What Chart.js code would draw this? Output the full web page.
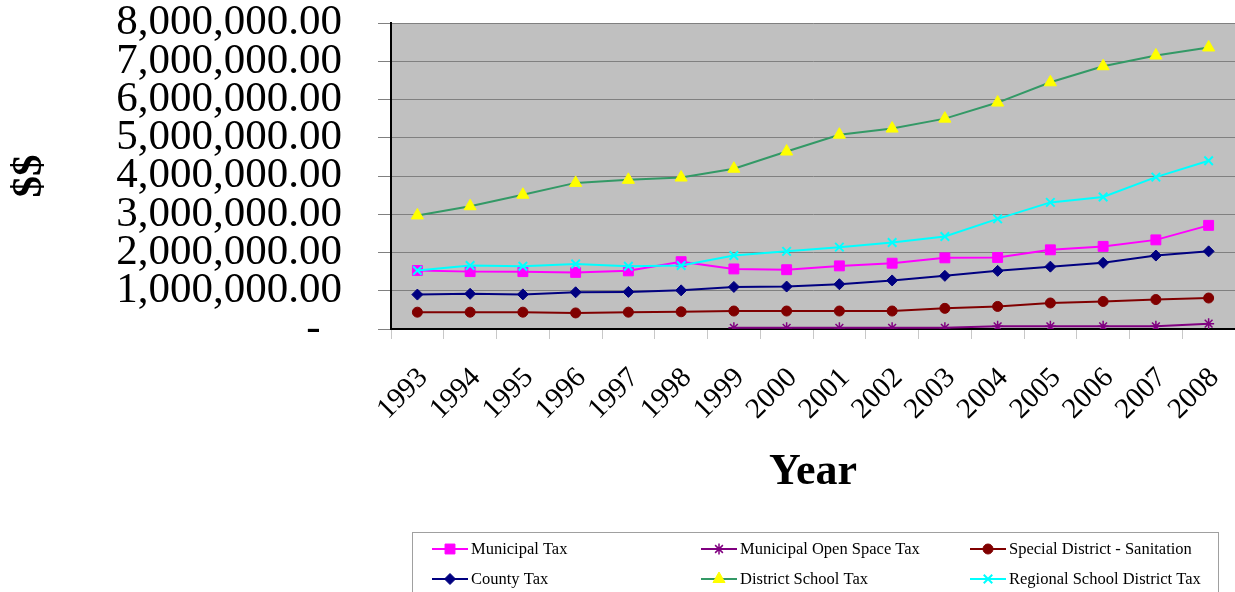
<!DOCTYPE html>
<html>
<head>
<meta charset="utf-8">
<title>Tax Levies 1993-2008</title>
<script src="https://cdn.jsdelivr.net/npm/chart.js@4/dist/chart.umd.min.js"></script>
<style>
  html, body { margin: 0; padding: 0; background: #fff; }
  #wrap { position: relative; width: 1235px; height: 592px; }
</style>
</head>
<body>
<div id="wrap"><canvas id="chart" width="1235" height="592"></canvas></div>
<script>
// Years on the category axis
const years = ['1993','1994','1995','1996','1997','1998','1999','2000',
               '2001','2002','2003','2004','2005','2006','2007','2008'];

// Annual levies in dollars, one list per tax
const municipalTax = [1530000, 1500000, 1500000, 1480000, 1520000, 1760000, 1570000, 1550000,
                      1650000, 1720000, 1860000, 1870000, 2070000, 2160000, 2330000, 2710000];
const municipalOpenSpaceTax = [null, null, null, null, null, null, 30000, 30000,
                               30000, 30000, 30000, 70000, 70000, 70000, 70000, 140000];
const sanitationTax = [440000, 440000, 440000, 420000, 440000, 450000, 470000, 470000,
                       470000, 470000, 540000, 590000, 680000, 720000, 770000, 810000];
const countyTax = [900000, 920000, 905000, 960000, 970000, 1010000, 1100000, 1110000,
                   1170000, 1270000, 1390000, 1520000, 1630000, 1730000, 1920000, 2030000];
const districtSchoolTax = [2970000, 3210000, 3510000, 3820000, 3900000, 3960000, 4190000, 4640000,
                           5080000, 5240000, 5500000, 5920000, 6450000, 6870000, 7150000, 7360000];
const regionalSchoolTax = [1530000, 1660000, 1640000, 1700000, 1640000, 1660000, 1920000, 2030000,
                           2140000, 2260000, 2420000, 2880000, 3310000, 3450000, 3970000, 4400000];

// Value axis range and step
const yMin = 0;
const yMax = 8000000;
const yStep = 1000000;

const SERIF = "'Liberation Serif', 'Times New Roman', Times, serif";

function money(v) {
  if (v === 0) return '-  ';
  const whole = Math.round(v).toString().replace(/\B(?=(\d{3})+(?!\d))/g, ',');
  return whole + '.00';
}

function series(label, data, line, fill, style, radius, order, pbw) {
  return {
    label, data, order,
    borderColor: line,
    backgroundColor: fill,
    borderWidth: 2,
    pointStyle: style,
    pointRadius: radius,
    pointHoverRadius: radius,
    pointBackgroundColor: fill,
    pointBorderColor: fill,
    pointBorderWidth: pbw,
    tension: 0,
    spanGaps: false
  };
}

// Legend layout order: two rows of three
const datasets = [
  series('Municipal Tax', municipalTax, '#FF00FF', '#FF00FF', 'rect', 7, 5, 1),
  series('Municipal Open Space Tax', municipalOpenSpaceTax, '#800080', '#800080', 'star', 5.5, 4, 1.5),
  series('Special District - Sanitation', sanitationTax, '#800000', '#800000', 'circle', 5, 3, 1),
  series('County Tax', countyTax, '#000080', '#000080', 'rectRot', 5.5, 2, 1),
  series('District School Tax', districtSchoolTax, '#339966', '#FFFF00', 'triangle', 7, 1, 1),
  series('Regional School District Tax', regionalSchoolTax, '#00FFFF', '#00FFFF', 'crossRot', 6, 0, 2)
];

// Grey plot area behind the gridlines
const plotBackground = {
  id: 'plotBackground',
  beforeDraw(chart) {
    const { ctx, chartArea: a } = chart;
    ctx.save();
    ctx.fillStyle = '#C0C0C0';
    ctx.fillRect(a.left, a.top, a.right - a.left, a.bottom - a.top);
    ctx.restore();
  }
};

// Boxed legend in fixed columns beneath the axis title
const boxedLegend = {
  id: 'boxedLegend',
  afterDraw(chart) {
    const ctx = chart.ctx;
    const colX = [432, 701, 970];
    const rowY = [549, 579];
    ctx.save();
    ctx.strokeStyle = '#a0a0a0';
    ctx.lineWidth = 1;
    ctx.strokeRect(412.5, 532.5, 806, 80);
    ctx.font = '16.5px ' + SERIF;
    ctx.textBaseline = 'middle';
    ctx.textAlign = 'left';
    chart.data.datasets.forEach((ds, i) => {
      const x = colX[i % 3];
      const y = rowY[Math.floor(i / 3)];
      ctx.strokeStyle = ds.borderColor;
      ctx.lineWidth = 2;
      ctx.beginPath();
      ctx.moveTo(x, y);
      ctx.lineTo(x + 36, y);
      ctx.stroke();
      ctx.fillStyle = ds.pointBackgroundColor;
      ctx.strokeStyle = ds.pointBorderColor;
      ctx.lineWidth = ds.pointBorderWidth;
      Chart.helpers.drawPoint(ctx, {
        pointStyle: ds.pointStyle,
        radius: ds.pointRadius,
        rotation: 0,
        borderWidth: ds.pointBorderWidth
      }, x + 18, y);
      ctx.fillStyle = '#000';
      ctx.fillText(ds.label, x + 39, y + 1);
    });
    ctx.restore();
  }
};

new Chart(document.getElementById('chart'), {
  type: 'line',
  data: { labels: years, datasets },
  plugins: [plotBackground, boxedLegend],
  options: {
    responsive: false,
    animation: false,
    devicePixelRatio: 1,
    layout: { autoPadding: false, padding: { top: 23, right: 0, bottom: 90, left: 0 } },
    plugins: {
      legend: { display: false },
      tooltip: { enabled: false }
    },
    scales: {
      x: {
        offset: true,
        grid: { offset: true, drawOnChartArea: false, drawTicks: true, tickLength: 10, color: '#c8c8c8', lineWidth: 1 },
        border: { color: '#000', width: 2 },
        ticks: {
          autoSkip: false, minRotation: 45, maxRotation: 45,
          padding: 22, labelOffset: 6,
          color: '#000', font: { family: SERIF, size: 29 }
        },
        title: {
          display: true, text: 'Year', color: '#000',
          font: { family: SERIF, size: 44, weight: 'bold' },
          padding: { top: 0, bottom: 3 }
        },
        afterFit(scale) {
          scale.height = 173;
          scale.paddingLeft = 0;
          scale.paddingRight = 0;
        }
      },
      y: {
        min: yMin, max: yMax,
        grid: { color: '#808080', lineWidth: 1, tickLength: 13 },
        border: { color: '#000', width: 2 },
        ticks: {
          stepSize: yStep, count: 9, autoSkip: false, padding: 36, color: '#000',
          font: { family: SERIF, size: 43, lineHeight: 0.85 },
          callback: (v) => money(v)
        },
        title: {
          display: true, text: '$$', color: '#000',
          font: { family: SERIF, size: 43, weight: 'bold' },
          padding: { top: 4, bottom: 0 }
        },
        afterFit(scale) {
          scale.width = 391;
          scale.paddingTop = 0;
          scale.paddingBottom = 0;
        }
      }
    }
  }
});
</script>
</body>
</html>
